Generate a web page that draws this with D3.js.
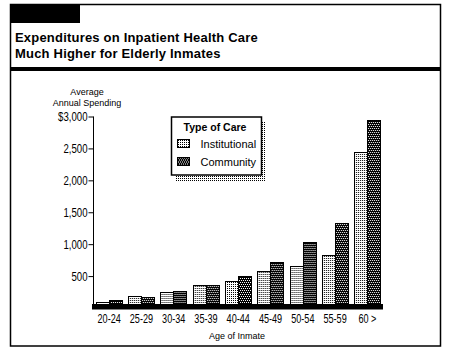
<!DOCTYPE html>
<html>
<head>
<meta charset="utf-8">
<script src="https://cdn.jsdelivr.net/npm/d3@7/dist/d3.min.js"></script>
<style>
  html, body { margin: 0; padding: 0; background: #fff; }
  svg { display: block; }
  .narrow { font-family: "Liberation Sans", Arial, sans-serif; }
  .sans { font-family: "Liberation Sans", Arial, sans-serif; }
</style>
</head>
<body>
<svg id="chart" width="451" height="350"></svg>
<script>
// Average annual inpatient spending per inmate, by age group
const ageGroups = ["20-24", "25-29", "30-34", "35-39", "40-44", "45-49", "50-54", "55-59", "60 >"];
const institutional = [95, 190, 250, 365, 430, 585, 660, 830, 2440];
const community = [125, 170, 265, 360, 500, 725, 1035, 1335, 2945];
const seriesNames = ["Institutional", "Community"];
const yTicks = [500, 1000, 1500, 2000, 2500, 3000];
const yTickLabels = ["500", "1,000", "1,500", "2,000", "2,500", "$3,000"];
const titleLines = ["Expenditures on Inpatient Health Care", "Much Higher for Elderly Inmates"];

const svg = d3.select("#chart");
const defs = svg.append("defs");

// Stipple fills: light dots on white, white dots on black
const pLight = defs.append("pattern").attr("id", "pat-inst")
  .attr("patternUnits", "userSpaceOnUse").attr("width", 2).attr("height", 2);
pLight.append("rect").attr("width", 2).attr("height", 2).attr("fill", "#fff");
pLight.append("rect").attr("width", 1).attr("height", 1).attr("fill", "#000");

const pDark = defs.append("pattern").attr("id", "pat-comm")
  .attr("patternUnits", "userSpaceOnUse").attr("width", 4).attr("height", 4);
pDark.append("rect").attr("width", 4).attr("height", 4).attr("fill", "#000");
[[0, 0], [2, 0], [1, 2], [3, 2]].forEach(([x, y]) =>
  pDark.append("rect").attr("x", x).attr("y", y).attr("width", 1).attr("height", 1).attr("fill", "#fff"));

const pShadow = defs.append("pattern").attr("id", "pat-shadow")
  .attr("patternUnits", "userSpaceOnUse").attr("width", 2).attr("height", 2);
pShadow.append("rect").attr("width", 1).attr("height", 1).attr("fill", "#000");

const fills = { Institutional: "url(#pat-inst)", Community: "url(#pat-comm)" };

// Squeeze a text node horizontally so it reads as a condensed face
function condense(sel, k) {
  sel.each(function () {
    const w = this.getComputedTextLength();
    d3.select(this).attr("textLength", w * k).attr("lengthAdjust", "spacingAndGlyphs");
  });
}

// Frame and header
svg.append("rect").attr("x", 10.5).attr("y", 4.5).attr("width", 430).attr("height", 341.5)
  .attr("fill", "none").attr("stroke", "#000").attr("stroke-width", 1.5);
svg.append("rect").attr("x", 10).attr("y", 4).attr("width", 70).attr("height", 19).attr("fill", "#000");
svg.append("rect").attr("x", 10).attr("y", 67).attr("width", 431).attr("height", 4).attr("fill", "#000");

svg.append("g").attr("class", "sans").selectAll("text").data(titleLines).join("text")
  .attr("x", 15).attr("y", (d, i) => 42 + i * 15.7)
  .attr("font-size", 13).attr("font-weight", "bold").attr("letter-spacing", 0.2)
  .text(d => d);

// Scales
const x0 = d3.scaleBand().domain(ageGroups).range([93, 383.5]).paddingInner(0.18).paddingOuter(0.09);
const x1 = d3.scaleBand().domain(seriesNames).range([0, x0.bandwidth()]);
const y = d3.scaleLinear().domain([0, 3000]).range([308, 116.5]);

// Bars
const rows = ageGroups.map((g, i) => ({ group: g, values: [
  { key: "Institutional", value: institutional[i] },
  { key: "Community", value: community[i] }
]}));

svg.append("g").selectAll("g").data(rows).join("g")
  .attr("transform", d => `translate(${x0(d.group)},0)`)
  .selectAll("rect").data(d => d.values).join("rect")
  .attr("x", d => Math.round(x1(d.key)) + 0.5)
  .attr("y", d => Math.round(y(d.value)) + 0.5)
  .attr("width", d => Math.round(x1.bandwidth()))
  .attr("height", d => 306 - Math.round(y(d.value)))
  .attr("fill", d => fills[d.key])
  .attr("stroke", "#000").attr("stroke-width", 1)
  .attr("shape-rendering", "crispEdges");

// Heavy baseline
svg.append("rect").attr("x", 92).attr("y", 304).attr("width", 291).attr("height", 5.5).attr("fill", "#000");

// Y axis
const yAxis = d3.axisLeft(y).tickValues(yTicks).tickSize(5).tickPadding(1)
  .tickFormat((d, i) => yTickLabels[i]);
const yg = svg.append("g").attr("transform", "translate(93.5,0)").call(yAxis);
yg.select(".domain").attr("d", `M0,${y(3000)}V304`).attr("stroke", "#000");
yg.selectAll(".tick line").attr("stroke", "#000");
yg.selectAll(".tick text").attr("class", "narrow").attr("font-size", 13).attr("fill", "#000")
  .attr("font-family", null);
condense(yg.selectAll(".tick text"), 0.74);

// X axis labels
const xAxis = d3.axisBottom(x0).tickSize(0).tickPadding(0);
const xg = svg.append("g").attr("transform", "translate(0,314)").call(xAxis);
xg.select(".domain").remove();
xg.selectAll(".tick text").attr("class", "narrow").attr("font-size", 13).attr("fill", "#000")
  .attr("font-family", null).attr("dy", "0.71em");
condense(xg.selectAll(".tick text"), 0.7);

// Axis titles
const yTitle = svg.append("g").attr("class", "sans").attr("font-size", 9).attr("text-anchor", "middle");
yTitle.append("text").attr("x", 87).attr("y", 95).text("Average");
yTitle.append("text").attr("x", 87).attr("y", 106).text("Annual Spending");
svg.append("text").attr("class", "sans").attr("font-size", 9).attr("text-anchor", "middle")
  .attr("x", 237).attr("y", 339).text("Age of Inmate");

// Legend
const lg = svg.append("g").attr("class", "sans");
lg.append("rect").attr("x", 175).attr("y", 121).attr("width", 91).attr("height", 60).attr("fill", "url(#pat-shadow)");
lg.append("rect").attr("x", 171.5).attr("y", 117).attr("width", 90).attr("height", 58)
  .attr("fill", "#fff").attr("stroke", "#000").attr("stroke-width", 1.5);
lg.append("text").attr("x", 215).attr("y", 130.5).attr("text-anchor", "middle")
  .attr("font-size", 10.5).attr("font-weight", "bold").text("Type of Care");
const items = lg.selectAll("g.item").data(seriesNames).join("g").attr("class", "item")
  .attr("transform", (d, i) => `translate(0,${i * 17.5})`);
items.append("rect").attr("x", 177.5).attr("y", 139.5).attr("width", 12).attr("height", 8)
  .attr("fill", d => fills[d]).attr("stroke", "#000").attr("shape-rendering", "crispEdges");
items.append("text").attr("x", 200.5).attr("y", 148).attr("font-size", 11).text(d => d);
</script>
</body>
</html>
